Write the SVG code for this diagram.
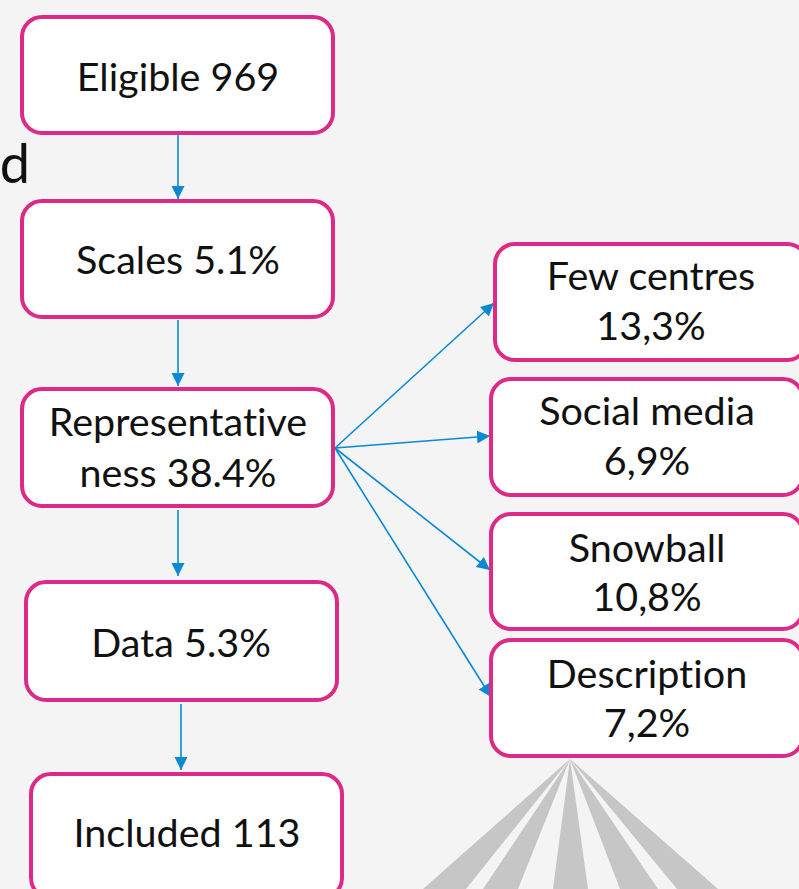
<svg xmlns="http://www.w3.org/2000/svg" width="799" height="889" viewBox="0 0 799 889">
  <style>
    .box { fill: #ffffff; stroke: #dc2a86; stroke-width: 4; }
    .lbl { font-family: Lato, "Liberation Sans", sans-serif; font-size: 39.5px; fill: #111111; text-anchor: middle; font-variant-ligatures: none; }
    .conn { stroke: #0a8ad3; stroke-width: 1.6; fill: none; marker-end: url(#arrow); }
    .ray { fill: #c6c6c6; }
  </style>
  <defs>
    <marker id="arrow" markerUnits="userSpaceOnUse" markerWidth="14" markerHeight="14" refX="13" refY="6.5" orient="auto">
      <path d="M0,0 L13,6.5 L0,13 z" fill="#0a8ad3"/>
    </marker>
  </defs>
  <rect x="0" y="0" width="799" height="889" fill="#f4f4f4"/>

  <g id="rays">
    <polygon class="ray" points="570,759 423,889 466,889"/>
    <polygon class="ray" points="570,759 483,889 518,889"/>
    <polygon class="ray" points="570,759 553,889 588,889"/>
    <polygon class="ray" points="570,759 620,889 658,889"/>
    <polygon class="ray" points="570,759 677,889 718,889"/>
  </g>

  <text x="30" y="183" font-family="Lato, 'Liberation Sans', sans-serif" font-size="54" fill="#111111" text-anchor="end">d</text>

  <g id="connectors">
    <line class="conn" x1="178" y1="135" x2="178" y2="199"/>
    <line class="conn" x1="178" y1="320" x2="178" y2="386"/>
    <line class="conn" x1="178" y1="510" x2="178" y2="576"/>
    <line class="conn" x1="181" y1="704" x2="181" y2="770"/>
    <line class="conn" x1="335" y1="448" x2="494" y2="303"/>
    <line class="conn" x1="335" y1="448" x2="490" y2="436"/>
    <line class="conn" x1="335" y1="448" x2="490" y2="570"/>
    <line class="conn" x1="335" y1="448" x2="491" y2="697"/>
  </g>

  <g id="eligible">
    <rect class="box" x="22" y="17" width="311" height="116" rx="20"/>
    <text class="lbl" x="178" y="91">Eligible 969</text>
  </g>
  <g id="scales">
    <rect class="box" x="22" y="201" width="311" height="116" rx="20"/>
    <text class="lbl" x="178" y="274">Scales 5.1%</text>
  </g>
  <g id="representativeness">
    <rect class="box" x="22" y="389" width="311" height="117" rx="20"/>
    <text class="lbl" x="178" y="436">Representative</text>
    <text class="lbl" x="178" y="487">ness 38.4%</text>
  </g>
  <g id="data">
    <rect class="box" x="26" y="582" width="311" height="118" rx="20"/>
    <text class="lbl" x="181" y="657">Data 5.3%</text>
  </g>
  <g id="included">
    <rect class="box" x="31" y="774" width="311" height="124" rx="20"/>
    <text class="lbl" x="187" y="847">Included 113</text>
  </g>

  <g id="few-centres">
    <rect class="box" x="495" y="244" width="312" height="116" rx="20"/>
    <text class="lbl" x="651" y="290">Few centres</text>
    <text class="lbl" x="651" y="340">13,3%</text>
  </g>
  <g id="social-media">
    <rect class="box" x="491" y="379" width="312" height="116" rx="20"/>
    <text class="lbl" x="647" y="425">Social media</text>
    <text class="lbl" x="647" y="475">6,9%</text>
  </g>
  <g id="snowball">
    <rect class="box" x="491" y="514" width="312" height="115" rx="20"/>
    <text class="lbl" x="647" y="562">Snowball</text>
    <text class="lbl" x="647" y="611">10,8%</text>
  </g>
  <g id="description">
    <rect class="box" x="491" y="640" width="312" height="116" rx="20"/>
    <text class="lbl" x="647" y="688">Description</text>
    <text class="lbl" x="647" y="737">7,2%</text>
  </g>
</svg>
